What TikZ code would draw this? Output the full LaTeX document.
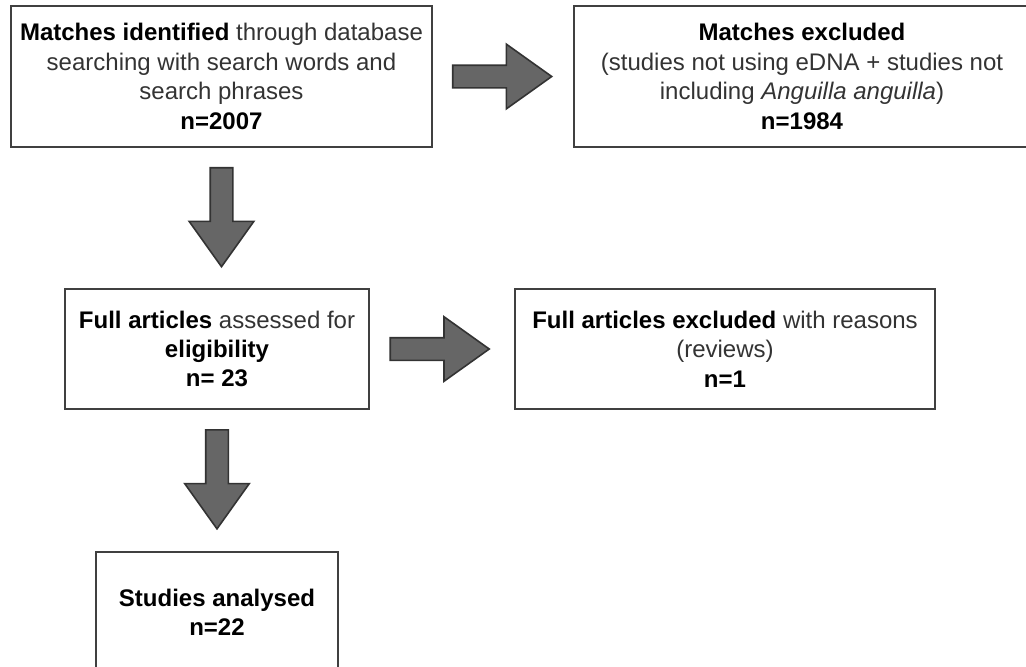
\documentclass[tikz,border=0pt]{standalone}
\usepackage{fontspec}
\setmainfont{Liberation Sans}
\usepackage{tikz}
\usetikzlibrary{positioning,calc,shapes.arrows}
\newcommand{\bt}[1]{\textcolor{black}{\textbf{#1}}}

\begin{document}
\begin{tikzpicture}[
  node distance=70pt,
  box/.style={draw=black!75, line width=1pt, minimum height=60pt, align=center, font=\fontsize{12}{14.7}\selectfont, text=black!80, inner sep=0pt},
  fat/.style={single arrow, draw=black!80, fill=black!60, line width=0.8pt, minimum height=49.5pt, minimum width=31.5pt, inner xsep=0pt, inner ysep=5.25pt, single arrow head extend=10.5pt, single arrow tip angle=71, sloped, allow upside down, anchor=tail, pos=0.135}
]
\useasboundingbox (-110.75pt,38.25pt) rectangle (402.25pt,-294.75pt);
\node[box, minimum width=210.5pt, minimum height=70.5pt] (found) at (0,0) {\bt{Matches identified} through database\\ searching with search words and\\ search phrases\\ \bt{n=2007}};
\node[box, minimum width=228pt, minimum height=70.5pt, right=of found] (excl) {\bt{Matches excluded}\\ (studies not using eDNA + studies not\\ including \textit{Anguilla anguilla})\\ \bt{n=1984}};
\node[box, minimum width=152pt, below=of found, xshift=-2.25pt] (full) {\bt{Full articles} assessed for\\ \bt{eligibility}\\ \bt{n= 23}};
\node[box, minimum width=210pt, right=72pt of full] (fexcl) {\bt{Full articles excluded} with reasons\\ (reviews)\\ \bt{n=1}};
\node[box, minimum width=120.5pt, below=70.5pt of full] (incl) {\bt{Studies analysed}\\ \bt{n=22}};
\path (found.east) -- (excl.west) node[fat] {};
\path (found.south) -- (found.south |- full.north) node[fat] {};
\path (full.east) -- (fexcl.west) node[fat] {};
\path (full.south) -- (incl.north) node[fat] {};
\end{tikzpicture}
\end{document}
